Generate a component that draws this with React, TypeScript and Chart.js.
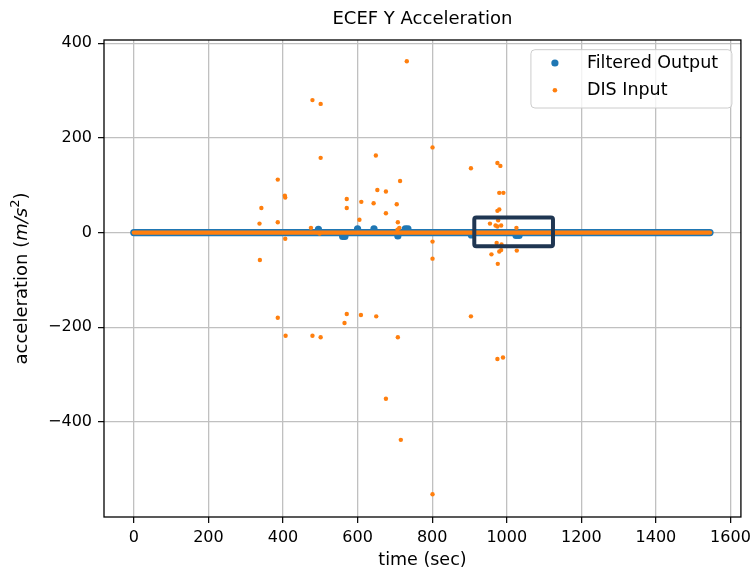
import React, { useEffect, useRef } from 'react';
import { Chart, registerables } from 'chart.js';

Chart.register(...registerables);

// ---- axis setup ----
const xTicks = [0, 200, 400, 600, 800, 1000, 1200, 1400, 1600];
const yTicks = [-400, -200, 0, 200, 400];
const xLimits = [-80, 1628];
const yLimits = [-601, 407];

// ---- dense near-zero sample band (start / end of the record) ----
const bandTimes = [0, 1545];
const filteredBandValues = [0, 0];
const disBandValues = [0, 0];

// ---- Filtered Output: samples visibly off the zero band ----
const filteredTimes = [495, 560, 566, 600, 644, 708, 728, 735, 905, 1025, 1033];
const filteredValues = [7, -8, -8, 8, 8, -7, 8, 8, -5, -6, -6];

// ---- DIS Input: scattered samples ----
const disTimes = [
  732, 479, 501, 801, 501, 649, 975, 983, 904, 386,
  714, 405, 406, 653, 676, 980, 991, 571, 610, 643,
  705, 342, 571, 980, 975, 676, 605, 977, 337, 386,
  708, 955, 970, 985, 1026, 475, 712, 975, 498, 707,
  406, 801, 973, 986, 1027, 980, 985, 959, 338, 801,
  976, 571, 609, 650, 904, 386, 565, 407, 479, 501,
  708, 990, 975, 676, 716, 801,
];
const disValues = [
  362, 280, 272, 180, 158, 163, 147, 141, 136, 112,
  109, 78, 74, 90, 87, 84, 84, 71, 65, 62,
  60, 52, 52, 49, 46, 41, 27, 26, 19, 22,
  22, 19, 15, 15, 10, 10, 10, 13, -2, 6,
  -13, -19, -22, -25, -38, -40, -37, -46, -58, -55,
  -66, -172, -174, -177, -177, -180, -191, -218, -218, -221,
  -221, -264, -267, -351, -438, -553,
];

// ---- highlight box (data coordinates) ----
const boxTimes = [913, 1124];
const boxValues = [-29, 32];

const title = 'ECEF Y Acceleration';
const xTitle = 'time (sec)';
const legendLabels = ['Filtered Output', 'DIS Input'];

const BLUE = '#1f77b4';
const ORANGE = '#ff7f0e';
const FONT = 'DejaVu Sans';

const toPts = (xs: number[], ys: number[]) => xs.map((x, i) => ({ x, y: ys[i] }));
const fmt = (v: number) => String(v).replace('-', '\u2212');

const decorPlugin = {
  id: 'decor',
  afterDatasetsDraw(chart: any) {
    const { ctx, chartArea: a, scales } = chart;
    const xs = scales.x, ys = scales.y;
    const x1 = xs.getPixelForValue(boxTimes[0]);
    const x2 = xs.getPixelForValue(boxTimes[1]);
    const y1 = ys.getPixelForValue(boxValues[1]);
    const y2 = ys.getPixelForValue(boxValues[0]);
    ctx.save();
    ctx.strokeStyle = '#1f3652';
    ctx.lineWidth = 4;
    ctx.beginPath();
    if ((ctx as any).roundRect) (ctx as any).roundRect(x1, y1, x2 - x1, y2 - y1, 2);
    else ctx.rect(x1, y1, x2 - x1, y2 - y1);
    ctx.stroke();
    ctx.restore();
    ctx.save();
    ctx.strokeStyle = '#000';
    ctx.lineWidth = 1.3;
    ctx.strokeRect(a.left, a.top, a.right - a.left, a.bottom - a.top);
    ctx.restore();
  },
  afterDraw(chart: any) {
    const { ctx, chartArea: a } = chart;
    ctx.save();
    ctx.fillStyle = '#000';
    ctx.font = `18px "${FONT}"`;
    ctx.textAlign = 'center';
    ctx.textBaseline = 'middle';
    ctx.fillText(title, (a.left + a.right) / 2, 19);
    ctx.restore();

    const parts = [
      { t: 'acceleration (', f: `18px "${FONT}"`, dy: 0 },
      { t: 'm/s', f: `italic 18px "${FONT}"`, dy: 0 },
      { t: '2', f: `13px "${FONT}"`, dy: -6.5 },
      { t: ')', f: `18px "${FONT}"`, dy: 0 },
    ];
    ctx.save();
    ctx.fillStyle = '#000';
    ctx.textBaseline = 'middle';
    ctx.textAlign = 'left';
    let total = 0;
    const widths = parts.map((p) => {
      ctx.font = p.f;
      const w = ctx.measureText(p.t).width;
      total += w;
      return w;
    });
    ctx.translate(22, (a.top + a.bottom) / 2);
    ctx.rotate(-Math.PI / 2);
    let cx = -total / 2;
    parts.forEach((p, i) => {
      ctx.font = p.f;
      ctx.fillText(p.t, cx, p.dy);
      cx += widths[i];
    });
    ctx.restore();

    const lw = 201, lh = 58.3;
    const lx = a.right - 9 - lw;
    const ly = a.top + 9.7;
    ctx.save();
    ctx.beginPath();
    if ((ctx as any).roundRect) (ctx as any).roundRect(lx, ly, lw, lh, 4);
    else ctx.rect(lx, ly, lw, lh);
    ctx.fillStyle = 'rgba(255,255,255,0.8)';
    ctx.fill();
    ctx.strokeStyle = '#cccccc';
    ctx.lineWidth = 1;
    ctx.stroke();
    const rows = [
      { c: BLUE, r: 3.6, y: ly + 13.3 },
      { c: ORANGE, r: 2.3, y: ly + 40.6 },
    ];
    rows.forEach((row, i) => {
      ctx.beginPath();
      ctx.arc(lx + 24, row.y, row.r, 0, Math.PI * 2);
      ctx.fillStyle = row.c;
      ctx.fill();
      ctx.fillStyle = '#000';
      ctx.font = `17.5px "${FONT}"`;
      ctx.textAlign = 'left';
      ctx.textBaseline = 'middle';
      ctx.fillText(legendLabels[i], lx + 56, row.y);
    });
    ctx.restore();
  },
};

export default function App() {
  const ref = useRef<HTMLCanvasElement | null>(null);

  useEffect(() => {
    if (!ref.current) return;
    Chart.defaults.font.family = FONT;
    const chart = new Chart(ref.current, {
      type: 'scatter',
      data: {
        datasets: [
          {
            label: legendLabels[0],
            data: toPts(bandTimes, filteredBandValues),
            showLine: true,
            borderColor: BLUE,
            borderWidth: 7.3,
            borderCapStyle: 'round',
            pointRadius: 0,
            order: 4,
          },
          {
            label: legendLabels[0] + ' samples',
            data: toPts(filteredTimes, filteredValues),
            backgroundColor: BLUE,
            borderWidth: 0,
            pointRadius: 3.6,
            order: 3,
          },
          {
            label: legendLabels[1],
            data: toPts(bandTimes, disBandValues),
            showLine: true,
            borderColor: ORANGE,
            borderWidth: 4.4,
            borderCapStyle: 'round',
            pointRadius: 0,
            order: 2,
          },
          {
            label: legendLabels[1] + ' samples',
            data: toPts(disTimes, disValues),
            backgroundColor: ORANGE,
            borderWidth: 0,
            pointRadius: 2.2,
            order: 1,
          },
        ] as any,
      },
      options: {
        animation: false,
        responsive: false,
        devicePixelRatio: 1,
        layout: { padding: { top: 40, right: 10, bottom: 0, left: 0 } },
        plugins: {
          legend: { display: false },
          title: { display: false },
          tooltip: { enabled: false },
        },
        scales: {
          x: {
            type: 'linear',
            min: xLimits[0],
            max: xLimits[1],
            afterBuildTicks: (s: any) => {
              s.ticks = xTicks.map((v) => ({ value: v }));
            },
            afterFit: (s: any) => {
              s.height = 56;
            },
            ticks: {
              callback: (v: any) => fmt(v),
              color: '#000',
              font: { size: 16 },
              padding: 5,
              maxRotation: 0,
              autoSkip: false,
            },
            grid: {
              color: '#c0c0c0',
              lineWidth: 1.3,
              drawTicks: true,
              tickLength: 6,
              tickColor: '#000',
              tickWidth: 1.2,
            },
            border: { display: false },
            title: {
              display: true,
              text: xTitle,
              color: '#000',
              font: { size: 17.5 },
              padding: { top: 0, bottom: 2 },
            },
          },
          y: {
            type: 'linear',
            min: yLimits[0],
            max: yLimits[1],
            afterBuildTicks: (s: any) => {
              s.ticks = yTicks.map((v) => ({ value: v }));
            },
            afterFit: (s: any) => {
              s.width = 104;
            },
            ticks: {
              callback: (v: any) => fmt(v),
              color: '#000',
              font: { size: 16 },
              padding: 6,
              autoSkip: false,
            },
            grid: {
              color: '#c0c0c0',
              lineWidth: 1.3,
              drawTicks: true,
              tickLength: 6,
              tickColor: '#000',
              tickWidth: 1.2,
            },
            border: { display: false },
          },
        },
      } as any,
      plugins: [decorPlugin],
    });
    return () => chart.destroy();
  }, []);

  return (
    <div style={{ position: 'fixed', left: 0, top: 0, width: 756, height: 573, background: '#fff' }}>
      <canvas ref={ref} width={756} height={573} style={{ display: 'block', width: 756, height: 573 }} />
    </div>
  );
}
